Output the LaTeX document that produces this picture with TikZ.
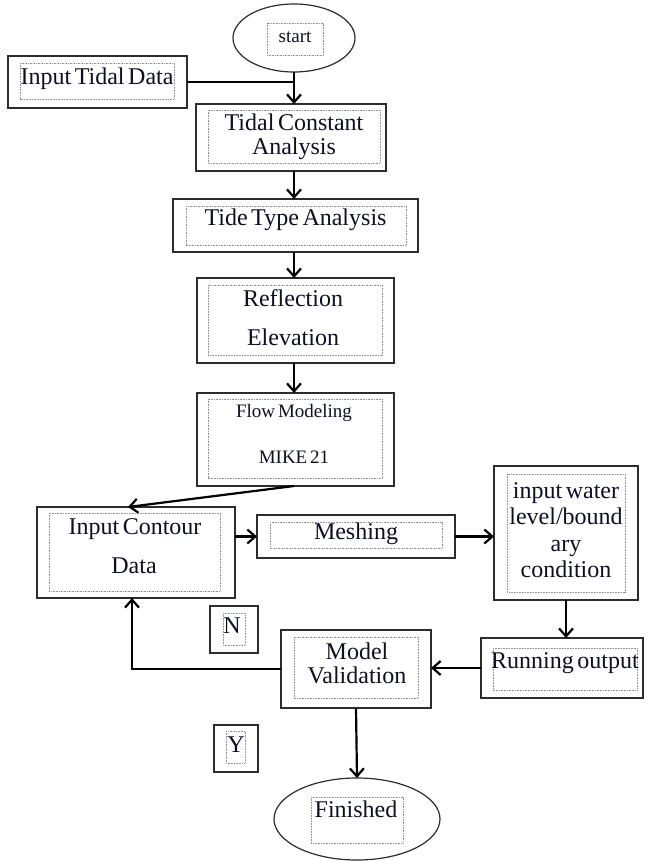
\documentclass[tikz,border=0pt]{standalone}
\usepackage{fontspec}
\setmainfont{Liberation Serif}[WordSpace=0.6]
\usetikzlibrary{arrows.meta,shapes.geometric}
\definecolor{txt}{RGB}{15,15,35}
\definecolor{boxc}{RGB}{45,45,45}
\begin{document}
\begin{tikzpicture}[x=1pt,y=-1pt,
  outer/.style={draw=boxc, line width=1.6pt, rectangle, inner sep=0pt, outer sep=0pt},
  oval/.style={draw=boxc, line width=1.2pt, ellipse, inner sep=0pt, outer sep=0pt},
  inbox/.style={draw=gray!85, line width=0.8pt, dash pattern=on 0.9pt off 0.7pt},
  lbl/.style={text=txt, font=\fontsize{24}{24}\selectfont, inner sep=0pt, anchor=center},
  smalllbl/.style={text=txt, font=\fontsize{19}{21}\selectfont, inner sep=0pt, anchor=center},
  arr/.style={line width=2.2pt, draw=black, -{Straight Barb[length=8pt,width=14pt]}},
  link/.style={line width=2.2pt, draw=black}]
\useasboundingbox (0,0) rectangle (646,861);
\fill[white] (0,0) rectangle (646,861);

% outer shapes
\node[oval, minimum width=122pt, minimum height=68pt] (start) at (294,38) {};
\node[outer, minimum width=179pt, minimum height=52pt] (itd) at (97.5,82) {};
\node[outer, minimum width=190pt, minimum height=67pt] (tca) at (291,137.5) {};
\node[outer, minimum width=245pt, minimum height=53pt] (tta) at (295.5,225.5) {};
\node[outer, minimum width=197pt, minimum height=85pt] (ref) at (295.5,320.5) {};
\node[outer, minimum width=197pt, minimum height=93pt] (flow) at (295.5,439.5) {};
\node[outer, minimum width=198pt, minimum height=91pt] (icd) at (136,552.5) {};
\node[outer, minimum width=198pt, minimum height=43pt] (mesh) at (356,536.5) {};
\node[outer, minimum width=144pt, minimum height=134pt] (iwl) at (566,533) {};
\node[outer, minimum width=162pt, minimum height=60pt] (run) at (562,668) {};
\node[outer, minimum width=150pt, minimum height=78pt] (mv) at (356,669) {};
\node[outer, minimum width=48pt, minimum height=47pt] (nbox) at (234,629.5) {};
\node[outer, minimum width=44pt, minimum height=47pt] (ybox) at (236,748.5) {};
\node[oval, minimum width=166pt, minimum height=82pt] (fin) at (357,819) {};

% inner dotted boxes
\draw[inbox] (267,23) rectangle (323,55);
\draw[inbox] (20,63) rectangle (174,99);
\draw[inbox] (208,110) rectangle (380,163);
\draw[inbox] (186,206) rectangle (406,245);
\draw[inbox] (208,285) rectangle (382,355);
\draw[inbox] (208,399) rectangle (382,478);
\draw[inbox] (49,513) rectangle (220,591);
\draw[inbox] (270,522) rectangle (442,548);
\draw[inbox] (507,474) rectangle (625,592);
\draw[inbox] (493,648) rectangle (637,690);
\draw[inbox] (294,637) rectangle (418,698);
\draw[inbox] (223,613) rectangle (245,645);
\draw[inbox] (226,731) rectangle (245,763);
\draw[inbox] (311,797) rectangle (403,843);

% texts
\node[smalllbl] (tstart) at (295,37) {start};
\node[lbl] (titd) at (97,79) {Input Tidal Data};
\node[lbl, align=center] (ttca) at (294,137) {Tidal Constant\\Analysis};
\node[lbl] (ttta) at (295.5,220) {Tide Type Analysis};
\node[lbl] (tref1) at (293,298) {Reflection};
\node[lbl] (tref2) at (293,337) {Elevation};
\node[smalllbl] (tflow1) at (294,413) {Flow Modeling};
\node[smalllbl] (tflow2) at (294,457) {MIKE 21};
\node[lbl] (ticd1) at (135,529) {Input Contour};
\node[lbl] (ticd2) at (134,566) {Data};
\node[lbl] (tmesh) at (356,534) {Meshing};
\node[lbl, font=\fontsize{24}{26.5}\selectfont, align=center] (tiwl) at (566,530) {input water\\level/bound\\ary\\condition};
\node[lbl] (trun) at (565,663) {Running output};
\node[lbl, align=center] (tmv) at (357,663) {Model\\Validation};
\node[lbl] (tn) at (232,626) {N};
\node[lbl] (ty) at (236,745) {Y};
\node[lbl] (tfin) at (356,809) {Finished};

% connectors
\draw[arr] (start.south) -- (start.south |- tca.north);
\draw[link] (itd.east) -- (itd.east -| start.south);
\draw[arr] (tca.south -| start) -- (tta.north -| start);
\draw[arr] (tta.south -| start) -- (ref.north -| start);
\draw[arr] (ref.south -| start) -- (flow.north -| start);
\draw[arr] (flow.south -| start) -- ([xshift=-8pt]icd.north);
\draw[arr] (mesh.west -| icd.east) -- (mesh.west);
\draw[arr] (mesh.east) -- (mesh.east -| iwl.west);
\draw[arr] (iwl.south) -- (iwl.south |- run.north);
\draw[arr] (run.west) -- (run.west -| mv.east);
\draw[arr] (mv.west) -| ([xshift=-4pt]icd.south);
\draw[arr] (mv.south) -- (fin.north);
\end{tikzpicture}
\end{document}
